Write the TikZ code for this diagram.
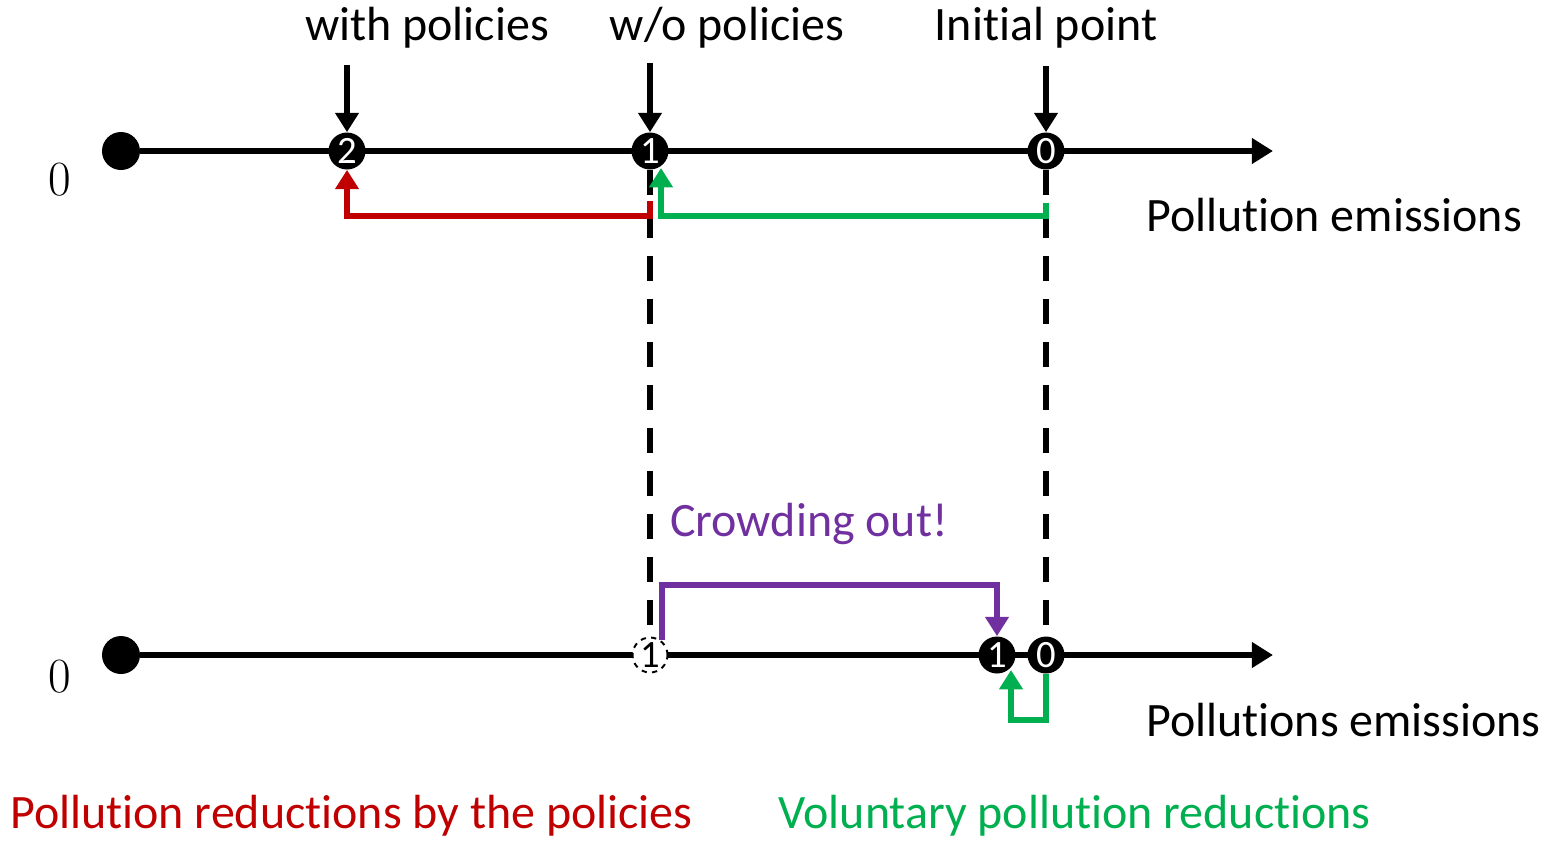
\documentclass[tikz,border=0pt]{standalone}
\usepackage{fontspec}
\setsansfont{Carlito}[Ligatures=NoCommon]
\usepackage{tikz}
\usetikzlibrary{positioning, arrows.meta, calc}
\definecolor{polred}{RGB}{192,0,0}
\definecolor{polgreen}{RGB}{0,176,80}
\definecolor{crowdpurple}{RGB}{112,48,160}

\begin{document}
\begin{tikzpicture}[x=0.02cm, y=-0.02cm]
		\tikzstyle{axis}=[line width=3.4pt, -{Triangle[width=14pt,length=12pt]}]
		\tikzstyle{move}=[line width=3.4pt, -{Triangle[width=13pt,length=11pt]}]
		\tikzstyle{guide}=[line width=3.4pt, dash pattern=on 0.5cm off 0.36cm]
		\tikzstyle{pt}=[circle, fill=black, text=white, minimum size=0.74cm, inner sep=0pt, font=\sffamily\fontsize{22}{22}\selectfont]
		\tikzstyle{oldpt}=[pt, draw=black, dashed, line width=1.1pt, fill=white, text=black, minimum size=0.7cm]
		\tikzstyle{dot}=[circle, fill=black, minimum size=0.76cm, inner sep=0pt]
		\tikzstyle{lbl}=[inner sep=0pt, font=\sffamily\fontsize{27.3}{27.3}\selectfont]
		\tikzstyle{zero}=[inner sep=0pt, font=\fontsize{28}{28}\selectfont]
		
		\useasboundingbox (0,0) rectangle (1557,840);
		
		%% upper axis
		\node [dot] (o1) at (121,151) {};
		\coordinate (e1) at (1273,151);
		\node [zero] (z1) at (60,180) {0};
		\node [lbl, anchor=west] (pe1) at (1146,215) {Pollution emissions};
		
		%% lower axis
		\node [dot] (o2) at (121,655) {};
		\coordinate (e2) at (1273,655);
		\node [zero] (z2) at (60,677) {0};
		\node [lbl, anchor=west] (pe2) at (1146,720) {Pollutions emissions};
		
		\draw [axis] (o1) -- (e1);
		\draw [axis] (o2) -- (e2);
		
		%% points
		\node [pt] (c2) at (347,151) {2};
		\node [pt] (c1) at (650,151) {1};
		\node [pt] (c0) at (1046,151) {0};
		\node [oldpt] (d1) at (650,655) {1};
		\node [pt] (b1) at (997,655) {1};
		\node [pt] (b0) at (1046,655) {0};
		
		\draw [guide] (c1.south) -- (d1.north);
		\draw [guide] (c0.south) -- (b0.north);
		
		%% labels on top
		\node [lbl] (lwith) at (427,28) {with policies};
		\node [lbl] (lwo) at (727,28) {w/o policies};
		\node [lbl] (linit) at (1046,28) {Initial point};
		\coordinate (a2) at (347,65);
		\coordinate (a1) at (650,63);
		\coordinate (a0) at (1046,66);
		\draw [move] (a2) -- (c2.north);
		\draw [move] (a1) -- (c1.north);
		\draw [move] (a0) -- (c0.north);
		
		%% reductions
		\coordinate (r0) at (650,201);
		\draw [move, polred] (r0) -- (650,216) -- (347,216) -- (c2.south);
		\coordinate (g0) at (1046,203);
		\draw [move, polgreen] (g0) -- (1046,216) -- (661,216) -- (661,168);
		\draw [move, polgreen] (b0.south) -- (1046,720) -- (1011,720) -- (1011,670);
		
		%% crowding out
		\coordinate (p0) at (662,640);
		\draw [move, crowdpurple] (p0) -- (662,585) -- (997,585) -- (b1.north);
		\node [lbl, text=crowdpurple, anchor=west] (crowd) at (670,524) {Crowding out!};
		
		%% legend
		\node [lbl, text=polred, anchor=west] (lred) at (10,816) {Pollution reductions by the policies};
		\node [lbl, text=polgreen, anchor=west] (lgreen) at (778,816) {Voluntary pollution reductions};
		
\end{tikzpicture}
\end{document}
